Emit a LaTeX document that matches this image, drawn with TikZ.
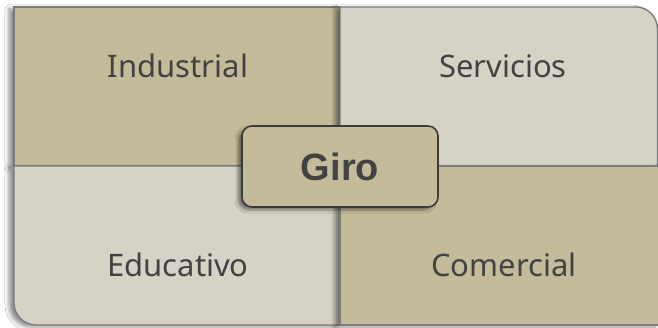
\documentclass[tikz,border=0pt]{standalone}
\usepackage{fontspec}
\setmainfont{Noto Sans}
\newfontfamily\hubfont{Liberation Sans}
\usetikzlibrary{shadows,shadows.blur}
\definecolor{tan}{HTML}{C3BB9A}
\definecolor{lightgr}{HTML}{D7D2C6}
\definecolor{edge}{HTML}{7C7C7C}
\definecolor{txt}{HTML}{424242}
\tikzset{
  quad/.style={draw=edge, line width=1.4pt,
    blur shadow={shadow xshift=-5pt, shadow yshift=-2pt, shadow blur radius=4pt, shadow opacity=45}},
  lbl/.style={text=txt, font=\fontsize{31}{34}\selectfont, inner sep=0pt},
  hub/.style={draw=txt!90!black, line width=1.6pt, fill=tan, rounded corners=10pt,
    minimum width=196pt, minimum height=81pt, text=txt,
    font=\hubfont\bfseries\fontsize{38}{40}\selectfont,
    blur shadow={shadow xshift=-4pt, shadow yshift=-3pt, shadow blur radius=3pt, shadow opacity=45}}
}
\begin{document}
\begin{tikzpicture}[x=1pt,y=-1pt]
\useasboundingbox[fill=white] (0,0) rectangle (658,328);
% top-left
\path[quad, fill=tan] (14,7) -- (340,7) -- (340,166) -- (14,166) -- cycle;
% bottom-left
\path[quad, fill=lightgr] (14,166) -- (340,166) -- (340,325) -- (36,325)
  .. controls (24,325) and (14,315) .. (14,303) -- cycle;
% top-right
\path[quad, fill=lightgr] (340,7) -- (636,7) .. controls (648,7) and (657.5,17) .. (657.5,29)
  -- (657.5,166) -- (340,166) -- cycle;
% bottom-right
\path[quad, fill=tan] (340,166) -- (660,166) -- (660,325) -- (340,325) -- cycle;
% labels
\node[lbl] (ind) at (178,66) {Industrial};
\node[lbl] (ser) at (503,66) {Servicios};
\node[lbl] (edu) at (178,265) {Educativo};
\node[lbl] (com) at (504,265) {Comercial};
\node[hub] (giro) at (340,166.5) {Giro};
\end{tikzpicture}
\end{document}
